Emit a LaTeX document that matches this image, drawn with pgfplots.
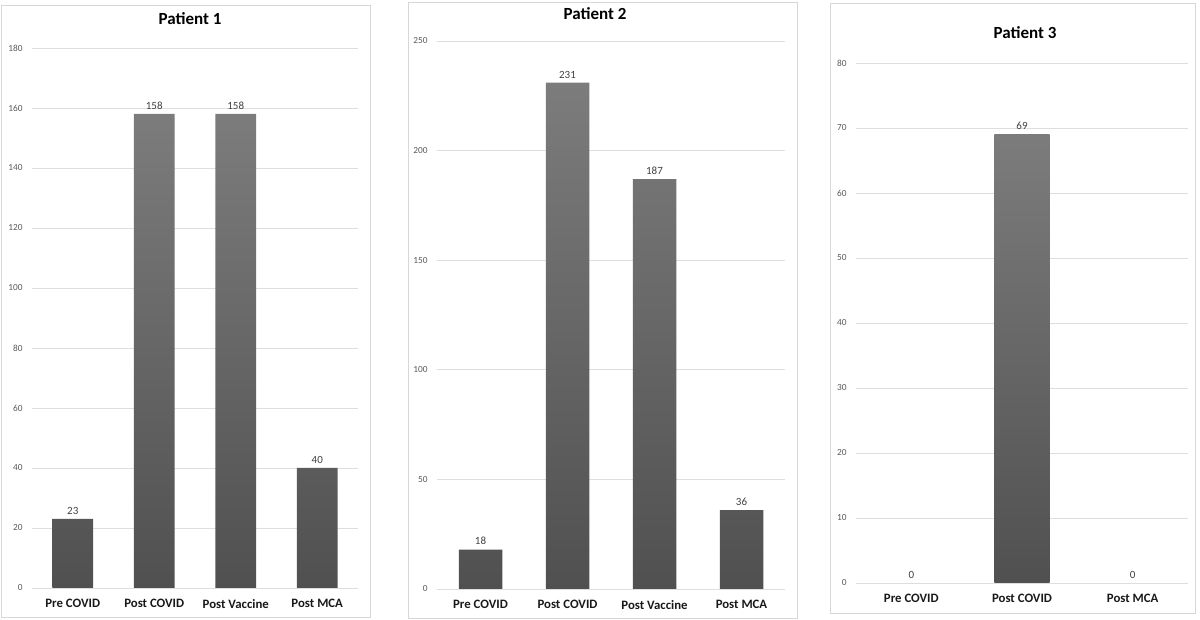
\documentclass[border=0pt]{standalone}
\usepackage{pgfplots}
\pgfplotsset{compat=1.18}
\usepackage{fontspec}
\setmainfont{Carlito}
\definecolor{bartop}{RGB}{124,124,124}
\definecolor{barbot}{RGB}{80,80,80}
\definecolor{gridc}{RGB}{222,222,222}
\definecolor{framec}{RGB}{215,215,215}
\definecolor{tickc}{RGB}{89,89,89}
\definecolor{labc}{RGB}{64,64,64}
\pgfplotsset{
 pstyle/.style={
  scale only axis, anchor=south west,
  axis line style={draw=none},
  ymajorgrids, grid style={draw=gridc, line width=0.9pt},
  major tick length=0pt,
  ymin=0,
  xtick=data,
  xticklabel style={font=\fontsize{12.8}{14}\selectfont\bfseries, text=black!90, yshift=-8pt},
  yticklabel style={font=\fontsize{9.3}{10}\selectfont, text=tickc, xshift=-6pt},
  /pgf/number format/assume math mode=true,
  ybar, bar width=0.5,
  nodes near coords,
  nodes near coords style={font=\fontsize{11}{12}\selectfont, text=labc, yshift=1pt},
 }
}
\begin{document}
\begin{tikzpicture}
\path[use as bounding box] (0pt,0pt) rectangle (1200pt,620pt);
\draw[framec, line width=0.9pt] (1pt,3pt) rectangle (370pt,615pt);
\draw[framec, line width=0.9pt] (408pt,2pt) rectangle (797pt,618pt);
\draw[framec, line width=0.9pt] (830pt,7pt) rectangle (1195pt,617pt);
\node[font=\fontsize{17}{18}\selectfont\bfseries] at (190pt,601pt) {Patient 1};
\node[font=\fontsize{17}{18}\selectfont\bfseries] at (595pt,606pt) {Patient 2};
\node[font=\fontsize{17}{18}\selectfont\bfseries] at (1025pt,587pt) {Patient 3};
% Panel 1
\begin{axis}[pstyle, at={(32pt,32pt)}, width=326pt, height=540pt,
  xmin=-0.5, xmax=3.5, ymax=180, ytick={0,20,...,180},
  xticklabels={Pre COVID, Post COVID, Post Vaccine, Post MCA}]
\addplot[draw=none, top color=bartop, bottom color=barbot] coordinates {(0,23) (1,158) (2,158) (3,40)};
\end{axis}
% Panel 2
\begin{axis}[pstyle, at={(437pt,31pt)}, width=348pt, height=548pt,
  xmin=-0.5, xmax=3.5, ymax=250, ytick={0,50,...,250},
  xticklabels={Pre COVID, Post COVID, Post Vaccine, Post MCA}]
\addplot[draw=none, top color=bartop, bottom color=barbot] coordinates {(0,18) (1,231) (2,187) (3,36)};
\end{axis}
% Panel 3
\begin{axis}[pstyle, at={(856pt,37pt)}, width=332pt, height=520pt,
  xmin=-0.5, xmax=2.5, ymax=80, ytick={0,10,...,80},
  xtick={0,1,2},
  xticklabels={Pre COVID, Post COVID, Post MCA}]
\addplot[draw=none, top color=bartop, bottom color=barbot, bar shift=0pt] coordinates {(1,69)};
\addplot[draw=none, fill=none, bar shift=0pt] coordinates {(0,0) (2,0)};
\end{axis}
\end{tikzpicture}
\end{document}
